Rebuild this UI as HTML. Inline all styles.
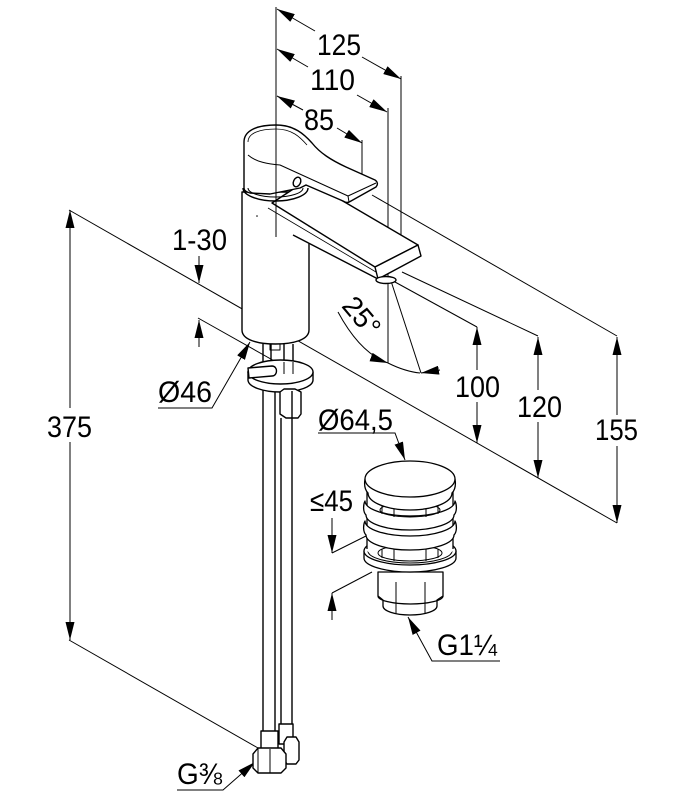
<!DOCTYPE html>
<html><head><meta charset="utf-8"><style>
html,body{margin:0;padding:0;background:#fff;}
svg{display:block;}
text{font-family:"Liberation Sans",Arial,sans-serif;font-size:30px;fill:#000;}
</style></head><body>
<svg width="680" height="800" viewBox="0 0 680 800" xmlns="http://www.w3.org/2000/svg">
<defs>
<marker id="a" viewBox="0 0 18 9" refX="18" refY="4.5" markerWidth="18" markerHeight="9" orient="auto-start-reverse" markerUnits="userSpaceOnUse"><path d="M0,0L18,4.5L0,9z" fill="#000"/></marker>
</defs>
<rect width="680" height="800" fill="#fff"/>

<!-- dimension & extension lines -->
<g stroke="#000" stroke-width="1" fill="none">
<path d="M277,9 L315,31" marker-start="url(#a)"/>
<path d="M362,57 L401,79" marker-end="url(#a)"/>
<path d="M277,49 L308,67" marker-start="url(#a)"/>
<path d="M357,95 L387,112" marker-end="url(#a)"/>
<path d="M277,96 L303,110" marker-start="url(#a)"/>
<path d="M337,128 L362,143" marker-end="url(#a)"/>
<path d="M401,76 L401,250"/>
<path d="M388,108 L388,363"/>
<path d="M362,140 L362,185"/>
<!-- 375 -->
<path d="M70,408 L70,210" marker-end="url(#a)"/>
<path d="M70,442 L70,640" marker-end="url(#a)"/>
<path d="M69,210 L617,523"/>
<path d="M69,640 L258,748"/>
<!-- 1-30 -->
<path d="M199,256 L199,283" marker-end="url(#a)"/>
<path d="M199,347 L199,320" marker-end="url(#a)"/>
<path d="M198,318 L285,367"/>
<!-- Ø46 -->
<path d="M158,408 L212,408 L250,342" marker-end="url(#a)"/>
<!-- 100 120 155 -->
<path d="M477,370 L477,327" marker-end="url(#a)"/>
<path d="M477,402 L477,443" marker-end="url(#a)"/>
<path d="M538,390 L538,337" marker-end="url(#a)"/>
<path d="M538,422 L538,478" marker-end="url(#a)"/>
<path d="M617,415 L617,337" marker-end="url(#a)"/>
<path d="M617,446 L617,523" marker-end="url(#a)"/>
<path d="M395,282 L477,327"/>
<path d="M402,272 L538,336"/>
<path d="M372,195 L617,336"/>
<!-- 25° -->
<path d="M391,281 L421,373"/>
<path d="M338,312 C352,338 368,356 388,363" marker-end="url(#a)"/>
<path d="M388,363 C398,368 410,372 420,373"/>
<path d="M440,370 L421,373" marker-end="url(#a)"/>
<!-- ≤45 -->
<path d="M332,518 L332,553" marker-end="url(#a)"/>
<path d="M332,620 L332,593" marker-end="url(#a)"/>
<path d="M332,553 L372,533"/>
<path d="M332,593 L372,572"/>
<!-- Ø64,5 -->
<path d="M318,433 L395,433 L405,460" marker-end="url(#a)"/>
<!-- G1¼ -->
<path d="M500,661 L432,661 L408,617" marker-end="url(#a)"/>
<!-- G⅜ -->
<path d="M177,790 L223,790 L255,762" marker-end="url(#a)"/>
</g>

<!-- faucet -->
<g stroke="#000" stroke-width="1.4" fill="#fff" stroke-linejoin="round">
<!-- body -->
<path d="M242,192 L242,330 C242,340 258,344 275.5,344 C293,344 309,340 309,330 L309,192 Z"/>
<!-- spout -->
<path d="M265,200 L375,267 L378,279 L309,244 L293,235 L265,215 Z" stroke="none"/>
<path d="M272,203 L375,267 L418,245 L307,180 Z"/>
<path d="M375,267 L418,245 L421,256 L378,279 Z"/>
<path d="M293,235 L378,279" fill="none"/>
<path d="M268,208 L376,272" fill="none" stroke-width="0.8"/>
<ellipse cx="386" cy="280" rx="10" ry="3.5"/>
<!-- handle -->
<path d="M244,188 L244,142 C244,130 258,125 276,125 C294,125 304,134 312,143 C320,153 331,160 346,167 L375,180 C378,182 378,185 376,187 L351,201 C348,203 346,203 343,201 L306,185 L300,188 L270,194 L250,193 C246,192 244,190 244,188 Z"/>
<path d="M248,155 C256,162 268,164 280,165 L348,196 L376,183" fill="none" stroke-width="1"/>
<path d="M248,142 C248,133 260,129 276,129 C292,129 300,137 307,145" fill="none" stroke-width="0.8"/>
<path d="M348,196 L349,202" fill="none" stroke-width="1"/>
<ellipse cx="297" cy="182" rx="3.5" ry="5" transform="rotate(25 297 182)"/>
<!-- cap ring -->
<path d="M243,188 A32.5,13 0 0 0 308,188" fill="none"/>
<path d="M248,188 A27.5,9 0 0 0 303,188" fill="none" stroke-width="1"/>
</g>
<path d="M276,7 L276,237" stroke="#000" stroke-width="1"/>
<circle cx="257" cy="216" r="0.8" fill="#000"/>

<!-- under body -->
<g stroke="#000" stroke-width="1.4" fill="#fff" stroke-linejoin="round">
<path d="M263,344 L263,372 M271,344 L271,372 M284,344 L284,366 M293,344 L293,366" fill="none"/>
<path d="M270,344 L270,350 L280,350 L280,344" fill="none" stroke-width="1"/>
<!-- hoses -->
<path d="M263,383 L263,735 M275,383 L275,735 M281,418 L281,728 M292,418 L292,728" fill="none"/>
<!-- washer -->
<path d="M248,372 L248,380 A32.5,12 0 0 0 313,380 L313,372 Z"/>
<ellipse cx="280.5" cy="372" rx="32.5" ry="12"/>
<path d="M248,368 L272,366 C278,366 278,376 272,376 L249,378 Z"/>
<path d="M284,362 L284,374 M293,362 L293,374" fill="none" stroke-width="1"/>
<!-- nut -->
<path d="M280,392 L280,414 L286,418 L298,418 L301,414 L301,392 L295,389 L284,389 Z"/>
<path d="M292,391 L292,418" fill="none"/>
<!-- bottom fittings -->
<rect x="279" y="724" width="14" height="20"/>
<path d="M284,742 L287,737 L296,737 L299,742 L299,760 L296,764 L287,764 L284,760 Z"/>
<rect x="261" y="731" width="17" height="21"/>
<path d="M253,754 L258,748 L281,748 L286,754 L286,768 L281,773 L258,773 L253,768 Z"/>
<path d="M270,749 L270,773 M258,748 L258,773" fill="none" stroke-width="1"/>
</g>

<!-- drain -->
<g stroke="#000" stroke-width="1.3" fill="#fff" stroke-linejoin="round">
<!-- lower body -->
<path d="M378,572 L378,596 L383,600 L383,606 A27,9 0 0 0 437,606 L437,600 L443,596 L443,572 Z"/>
<path d="M378,596 A32.5,8 0 0 0 443,596" fill="none"/>
<path d="M396,582 L396,614 M425,582 L425,614" fill="none" stroke-width="1"/>
<!-- flange -->
<path d="M364,551 L364,558 A46,14 0 0 0 456,558 L456,551 Z"/>
<ellipse cx="410" cy="551" rx="46" ry="14"/>
<ellipse cx="410" cy="551" rx="42" ry="12" fill="none" stroke-width="1"/>
<!-- silhouette of upper stack -->
<path d="M367,485 L367,549 A43,12 0 0 0 453,549 L453,485 Z" stroke="none"/>
<path d="M367,485 L367,549 M453,485 L453,549" fill="none"/>
<ellipse cx="410" cy="553" rx="32" ry="8" fill="none" stroke-width="1"/>
<path d="M394,548 L394,561 M426,548 L426,561 M382,549 L382,558 M438,549 L438,558" fill="none" stroke-width="1"/>
<!-- ring C -->
<path d="M365,521 C363,525 363,532 366,535 A44,15 0 0 0 454,535 C457,532 457,525 455,521 A45,15 0 0 1 365,521 Z"/>
<!-- ring B -->
<path d="M365,501 C363,505 363,512 366,515 A44,15 0 0 0 454,515 C457,512 457,505 455,501 A45,15 0 0 1 365,501 Z"/>
<!-- grate under cap -->
<ellipse cx="410" cy="510" rx="30" ry="7" fill="none" stroke-width="1"/>
<path d="M394,507 L394,517 M426,507 L426,517 M382,506 L382,514 M438,506 L438,514" fill="none" stroke-width="1"/>
<!-- cap -->
<path d="M365,479 C364,485 365,490 368,493 A42,17 0 0 0 452,493 C455,490 456,485 455,479 Z"/>
<ellipse cx="410" cy="479" rx="45" ry="18"/>
</g>

<!-- labels -->
<text x="317" y="55" textLength="44" lengthAdjust="spacingAndGlyphs">125</text>
<text x="310" y="90" textLength="45" lengthAdjust="spacingAndGlyphs">110</text>
<text x="304" y="130" textLength="30" lengthAdjust="spacingAndGlyphs">85</text>
<text x="172" y="250" textLength="55" lengthAdjust="spacingAndGlyphs">1-30</text>
<text x="158" y="402" textLength="54" lengthAdjust="spacingAndGlyphs">Ø46</text>
<text x="47" y="437" textLength="45" lengthAdjust="spacingAndGlyphs">375</text>
<text x="455" y="397" textLength="45" lengthAdjust="spacingAndGlyphs">100</text>
<text x="517" y="417" textLength="45" lengthAdjust="spacingAndGlyphs">120</text>
<text x="595" y="440" textLength="43" lengthAdjust="spacingAndGlyphs">155</text>
<text x="318" y="430" textLength="75" lengthAdjust="spacingAndGlyphs">Ø64,5</text>
<text x="310" y="511" textLength="43" lengthAdjust="spacingAndGlyphs">≤45</text>
<text x="437" y="655" textLength="60" lengthAdjust="spacingAndGlyphs">G1¼</text>
<text x="177" y="784" textLength="45" lengthAdjust="spacingAndGlyphs">G⅜</text>
<text transform="translate(362,316) rotate(50)" x="0" y="10" text-anchor="middle" style="font-size:28px">25°</text>
</svg>
</body></html>
